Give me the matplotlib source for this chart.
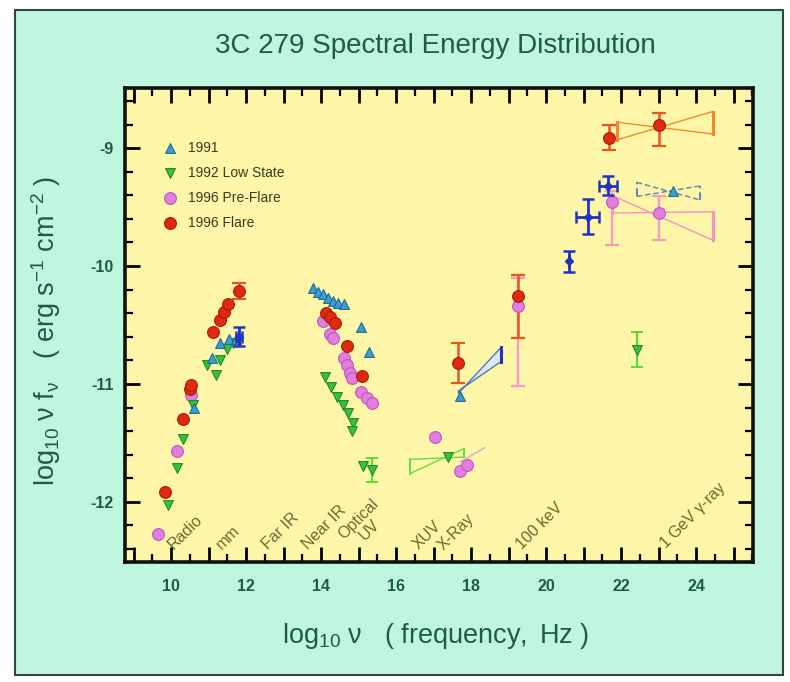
import numpy as np
import matplotlib
matplotlib.use('Agg')
import matplotlib.pyplot as plt
from matplotlib.patches import Rectangle
from matplotlib.ticker import MultipleLocator, FuncFormatter

plt.rcParams['font.family'] = ['Liberation Sans', 'DejaVu Sans']
plt.rcParams['mathtext.fontset'] = 'custom'
plt.rcParams['mathtext.rm'] = 'Liberation Sans'
plt.rcParams['mathtext.it'] = 'Liberation Sans'
plt.rcParams['axes.unicode_minus'] = False

# --- data: log10 nu [Hz], log10 nu F_nu [erg s^-1 cm^-2] ---
nu_1991 = [10.60, 11.08, 11.30, 11.55, 11.72, 13.79, 13.92, 14.05, 14.19, 14.32,
           14.45, 14.61, 15.06, 15.29, 17.71, 23.38]
f_1991 = [-11.20, -10.78, -10.65, -10.62, -10.62, -10.19, -10.22, -10.24, -10.27, -10.30,
          -10.31, -10.32, -10.52, -10.73, -11.10, -9.36]

nu_1992 = [9.91, 10.15, 10.33, 10.58, 10.97, 11.19, 11.31, 11.48, 11.66, 14.11,
           14.26, 14.42, 14.58, 14.73, 14.86, 14.82, 15.13, 15.35, 17.39, 22.42]
f_1992 = [-12.03, -11.71, -11.47, -11.18, -10.84, -10.92, -10.80, -10.70, -10.65, -10.94,
          -11.03, -11.11, -11.18, -11.25, -11.33, -11.40, -11.70, -11.73, -11.62, -10.71]
err_nu_1992 = [15.35, 22.42]
err_f_1992 = [-11.73, -10.71]
err_1992 = [0.10, 0.15]

nu_pre = [9.66, 10.15, 10.52, 14.06, 14.24, 14.33, 14.60, 14.68, 14.77, 14.82,
          15.06, 15.22, 15.35, 17.04, 17.71, 17.89, 19.26, 21.75, 23.01]
f_pre = [-12.27, -11.57, -11.09, -10.47, -10.58, -10.61, -10.78, -10.84, -10.91, -10.95,
         -11.07, -11.12, -11.16, -11.45, -11.74, -11.69, -10.34, -9.46, -9.55]
err_nu_pre = [19.26, 21.75, 23.01]
err_f_pre = [-10.34, -9.46, -9.55]
err_pre_lo = [0.68, 0.36, 0.23]
err_pre_hi = [0.24, 0.10, 0.14]

nu_flare = [9.84, 10.31, 10.51, 10.52, 11.11, 11.31, 11.40, 11.51, 11.81, 14.12,
            14.25, 14.38, 14.68, 15.08, 17.66, 19.26, 21.69, 23.01]
f_flare = [-11.92, -11.30, -11.04, -11.01, -10.56, -10.46, -10.39, -10.32, -10.21, -10.40,
           -10.43, -10.48, -10.68, -10.93, -10.82, -10.25, -8.91, -8.80]
err_nu_flare = [11.81, 17.66, 19.26, 21.69, 23.01]
err_f_flare = [-10.21, -10.82, -10.25, -8.91, -8.80]
err_flare_lo = [0.07, 0.17, 0.36, 0.11, 0.18]
err_flare_hi = [0.07, 0.17, 0.17, 0.11, 0.10]

nu_blue = [11.81, 20.62, 21.11, 21.64]
f_blue = [-10.60, -9.96, -9.58, -9.32]
xerr_blue = [0.08, 0.0, 0.31, 0.24]
yerr_blue = [0.08, 0.09, 0.15, 0.08]

# bowties: x ends, (low, high) at left end, (low, high) at right end
bow_flare = ([21.89, 24.44], [-8.93, -8.78], [-8.88, -8.69])
bow_pre = ([21.75, 24.44], [-9.55, -9.40], [-9.78, -9.54])
bow_1991 = ([22.42, 24.11], [-9.41, -9.29], [-9.44, -9.32])
bow_1992 = ([16.37, 17.80], [-11.76, -11.64], [-11.62, -11.55])
wedge_xray = ([17.66, 18.80], [-11.08, -11.06], [-10.81, -10.69])
line_pre_xray = ([17.71, 18.37], [-11.66, -11.54])

band_names = ['Radio', 'mm', 'Far IR', 'Near IR', 'Optical\nUV', 'XUV', 'X-Ray',
              '100 keV', '1 GeV $\\gamma$-ray']
band_x = [10.12, 11.4, 12.65, 13.7, 14.95, 16.65, 17.32, 19.42, 23.27]

c_1991 = '#3a9fd0'
c_1992 = '#3cc03c'
c_pre = '#e27ee0'
c_flare = '#e02a10'
c_blue = '#2233c0'
green_txt = '#1d5e40'
olive = '#6d6a30'


def bowtie(ax, bt, color, ls='-', lw=1.0, endlw=1.6):
    (x0, x1), (l0, h0), (l1, h1) = bt
    ax.plot([x0, x1], [h0, l1], color=color, ls=ls, lw=lw, zorder=2)
    ax.plot([x0, x1], [l0, h1], color=color, ls=ls, lw=lw, zorder=2)
    ax.plot([x0, x0], [l0, h0], color=color, ls=ls, lw=endlw, zorder=2)
    ax.plot([x1, x1], [l1, h1], color=color, ls=ls, lw=endlw, zorder=2)


fig = plt.figure(figsize=(7.9, 6.82), dpi=100)
fig.patch.set_facecolor('white')
fig.patches.append(Rectangle((15 / 790, 7 / 682), 768 / 790, 665 / 682,
                             transform=fig.transFigure, facecolor='#c0f5df',
                             edgecolor='#2f4a3a', lw=1.5, zorder=-10))

ax = fig.add_axes([125 / 790, 1 - 562 / 682, 628 / 790, 474 / 682])
ax.set_zorder(5)
ax.set_facecolor('#fdf6a8')
ax.set_xlim(8.77, 25.52)
ax.set_ylim(-12.51, -8.49)

# bowties and wedges
bowtie(ax, bow_flare, '#f08a30', endlw=2.2)
bowtie(ax, bow_pre, '#f492c8', endlw=2.2)
bowtie(ax, bow_1991, '#5a88b0', ls=(0, (4, 2)), endlw=1.4)
bowtie(ax, bow_1992, '#66dd44', endlw=1.4)
(wx0, wx1), (wl0, wh0), (wl1, wh1) = wedge_xray
ax.fill([wx0, wx1, wx1, wx0], [wl0, wh1, wl1, wh0], facecolor='#dfe8f0',
        edgecolor='#5577bb', lw=1.0, zorder=2)
ax.plot([wx1, wx1], [wl1, wh1], color=c_blue, lw=2.2, zorder=2)
ax.plot(line_pre_xray[0], line_pre_xray[1], color='#f5a0c8', lw=1.0, zorder=2)

# error bars
ax.errorbar(err_nu_pre, err_f_pre, yerr=[err_pre_lo, err_pre_hi], fmt='none',
            ecolor='#f49ac4', elinewidth=1.6, capsize=5, capthick=1.6, zorder=3)
ax.errorbar(err_nu_flare, err_f_flare, yerr=[err_flare_lo, err_flare_hi], fmt='none',
            ecolor='#e8561e', elinewidth=1.8, capsize=5, capthick=1.6, zorder=3)
ax.errorbar(err_nu_1992, err_f_1992, yerr=err_1992, fmt='none',
            ecolor='#55dd33', elinewidth=1.6, capsize=4, capthick=1.4, zorder=3)
ax.errorbar(nu_blue, f_blue, xerr=xerr_blue, yerr=yerr_blue, fmt='D', ms=4,
            color=c_blue, ecolor=c_blue, elinewidth=2.0, capsize=4, capthick=1.8, zorder=5)

# data points
ax.scatter(nu_pre, f_pre, marker='o', s=72, facecolor=c_pre, edgecolor='#c055c0',
           lw=0.8, zorder=4, label='1996 Pre-Flare')
ax.scatter(nu_1992, f_1992, marker='v', s=50, facecolor=c_1992, edgecolor='#1f8a2a',
           lw=0.8, zorder=4, label='1992 Low State')
ax.scatter(nu_1991, f_1991, marker='^', s=50, facecolor=c_1991, edgecolor='#1f6a96',
           lw=0.8, zorder=4, label='1991')
ax.scatter(nu_flare, f_flare, marker='o', s=72, facecolor=c_flare, edgecolor='#a81808',
           lw=0.8, zorder=4, label='1996 Flare')

# spectral band labels along the bottom
for name, bx in zip(band_names, band_x):
    ax.text(bx, -12.43, name, rotation=45, rotation_mode='anchor', ha='left',
            va='bottom', fontsize=11.5, color=olive, multialignment='center',
            linespacing=0.95, zorder=1)

# legend in the order 1991, 1992, pre-flare, flare
h, l = ax.get_legend_handles_labels()
order = [l.index('1991'), l.index('1992 Low State'), l.index('1996 Pre-Flare'),
         l.index('1996 Flare')]
leg = ax.legend([h[i] for i in order], [l[i] for i in order], loc='upper left',
                bbox_to_anchor=(0.06, 0.888), frameon=False, fontsize=10,
                handlelength=1.0, handletextpad=0.8, labelspacing=0.78,
                borderpad=0, borderaxespad=0, scatterpoints=1)
for t in leg.get_texts():
    t.set_color('#3a3a22')

# ticks
ax.xaxis.set_major_locator(MultipleLocator(1))
ax.xaxis.set_minor_locator(MultipleLocator(0.5))
ax.yaxis.set_major_locator(MultipleLocator(1))
ax.yaxis.set_minor_locator(MultipleLocator(0.2))
ax.xaxis.set_major_formatter(FuncFormatter(lambda v, p: f'{int(round(v))}' if round(v) % 2 == 0 else ''))
ax.yaxis.set_major_formatter(FuncFormatter(lambda v, p: f'{int(round(v))}'))
ax.tick_params(which='both', direction='in', top=True, right=True, color='black')
ax.tick_params(which='major', length=11, width=2.0)
ax.tick_params(which='minor', length=6, width=1.6)
ax.tick_params(axis='x', which='major', pad=12)
ax.tick_params(axis='y', which='major', pad=8)
for lab in ax.get_xticklabels() + ax.get_yticklabels():
    lab.set_fontweight('bold')
    lab.set_fontsize(11.5)
    lab.set_color(green_txt)
for sp in ax.spines.values():
    sp.set_linewidth(2.6)
    sp.set_color('#111111')

fig.text(0.551, 0.933, '3C 279 Spectral Energy Distribution', ha='center', va='center',
         fontsize=20, color=green_txt, family=['Liberation Sans Narrow', 'Liberation Sans'])
fig.text(0.551, 0.067, r'$\mathregular{log_{10}\ \nu\ \ \ (\ frequency,\ Hz\ )}$',
         ha='center', va='center', fontsize=19.5, color=green_txt)
fig.text(0.058, 0.515, r'$\mathregular{log_{10}\ \nu\ f_{\nu}\ \ \ (\ erg\ s^{-1}\ cm^{-2}\ )}$',
         ha='center', va='center', rotation=90, fontsize=19.5, color=green_txt)

fig.savefig('out.png', dpi=100, facecolor=fig.get_facecolor())
